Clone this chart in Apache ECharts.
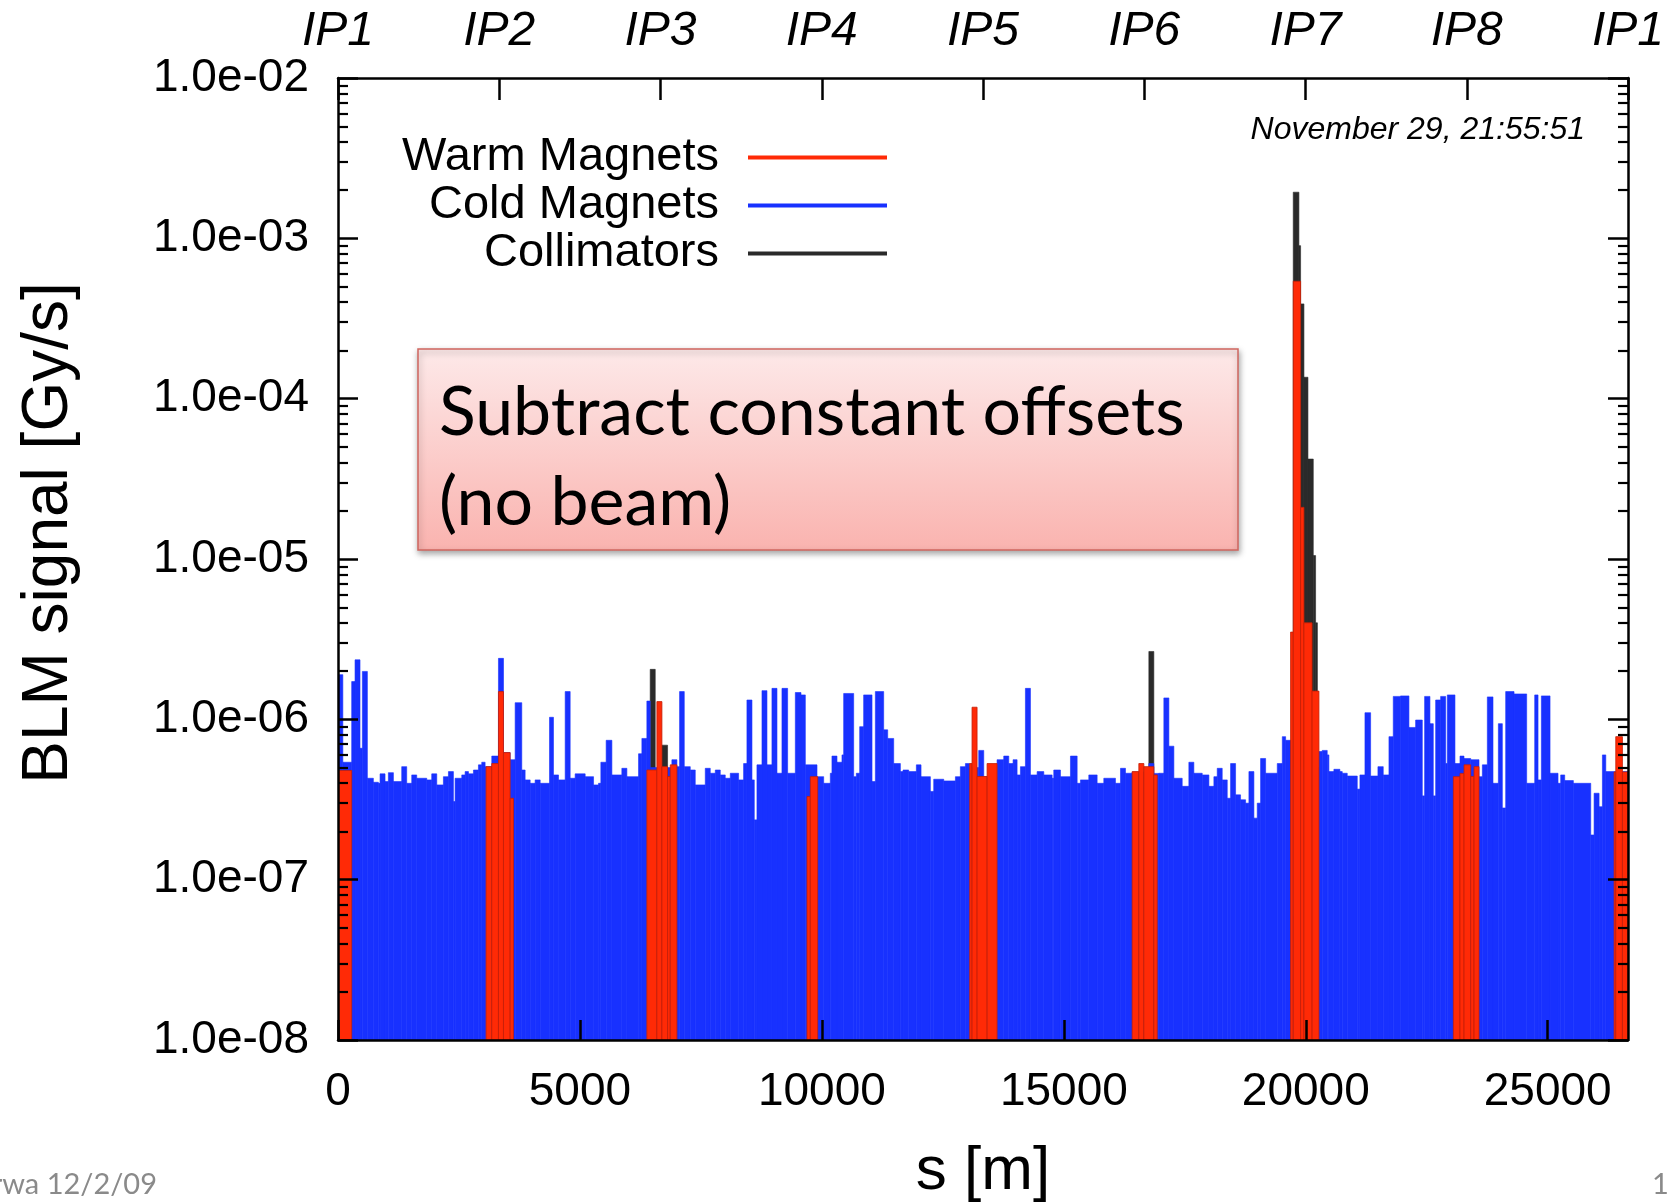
<!DOCTYPE html>
<html><head><meta charset="utf-8">
<script src="https://cdn.jsdelivr.net/npm/echarts@6/dist/echarts.min.js"></script>
<style>html,body{margin:0;padding:0;background:#fff;}#chart{width:1671px;height:1203px;}</style>
</head><body><div id="chart"></div>
<script>
// ---- data ----
const ringLength = 26659;
const ipNames = ['IP1','IP2','IP3','IP4','IP5','IP6','IP7','IP8','IP1'];
const xTickValues = [0, 5000, 10000, 15000, 20000, 25000];
const yTickLabels = ['1.0e-08','1.0e-07','1.0e-06','1.0e-05','1.0e-04','1.0e-03','1.0e-02'];
const yMin = 1e-8, yMax = 1e-2;

// Cold magnets: [start s (m), signal (Gy/s)], each bin lasts until the next start
const coldBins = [
[0,1.9e-6],[100,5.4e-7],[283,1.72e-6],[352,2.35e-6],[455,6.6e-7],[504,1.99e-6],[607,4.29e-7],[731,4.05e-7],[834,3.99e-7],[869,4.57e-7],[972,4.09e-7],[1041,4.65e-7],[1145,4.09e-7],[1317,5.07e-7],[1420,3.99e-7],[1524,4.5e-7],[1627,4.29e-7],[1834,4.19e-7],[1937,4.57e-7],[2041,3.9e-7],[2178,4.39e-7],[2282,4.72e-7],[2385,3.07e-7],[2420,4.29e-7],[2558,4.5e-7],[2627,4.72e-7],[2696,4.57e-7],[2799,4.83e-7],[2902,5.2e-7],[2971,5.4e-7],[3040,5.07e-7],[3178,5.9e-7],[3316,2.4e-6],[3420,6.2e-7],[3557,5.6e-7],[3661,1.27e-6],[3798,4.83e-7],[3867,4.19e-7],[3971,3.99e-7],[4074,4.19e-7],[4178,3.99e-7],[4371,1.03e-6],[4453,4.5e-7],[4557,4.19e-7],[4695,1.49e-6],[4798,4.29e-7],[4901,4.57e-7],[5108,4.39e-7],[5281,3.9e-7],[5384,3.99e-7],[5432,5.4e-7],[5542,7.4e-7],[5660,4.5e-7],[5866,4.95e-7],[5970,4.39e-7],[6211,6.1e-7],[6280,7.6e-7],[6383,1.3e-6],[6452,5.0e-7],[6900,5.6e-7],[7004,5.07e-7],[7059,1.49e-6],[7156,5.07e-7],[7280,4.83e-7],[7383,3.9e-7],[7590,4.95e-7],[7693,4.61e-7],[7797,4.83e-7],[7900,4.5e-7],[8003,4.29e-7],[8107,4.61e-7],[8279,4.19e-7],[8382,5.3e-7],[8451,1.32e-6],[8555,4.19e-7],[8603,2.36e-7],[8658,5.2e-7],[8762,1.51e-6],[8865,5.2e-7],[8968,1.56e-6],[9072,4.61e-7],[9175,1.56e-6],[9292,4.61e-7],[9451,1.47e-6],[9568,1.42e-6],[9658,5.2e-7],[9899,4.39e-7],[10037,3.99e-7],
[10174,4.61e-7],[10208,5.9e-7],[10312,5.4e-7],[10415,6.0e-7],[10450,1.45e-6],[10657,4.39e-7],[10712,4.61e-7],[10781,9.0e-7],[10863,1.42e-6],[11036,4.09e-7],[11105,1.49e-6],[11277,8.6e-7],[11360,7.6e-7],[11484,5.3e-7],[11622,4.72e-7],[11677,4.83e-7],[11794,4.72e-7],[11952,5.2e-7],[12049,4.39e-7],[12242,3.55e-7],[12311,4.23e-7],[12518,4.13e-7],[12759,4.39e-7],[12862,5.07e-7],[12966,5.3e-7],[13055,5.0e-7],[13241,6.4e-7],[13345,4.39e-7],[13620,5.6e-7],[13758,5.9e-7],[13862,5.3e-7],[13951,5.6e-7],[14034,4.5e-7],[14103,5.07e-7],[14206,1.56e-6],[14310,4.5e-7],[14448,4.72e-7],[14586,4.5e-7],[14758,4.29e-7],[14792,4.83e-7],[14930,4.39e-7],[15137,5.9e-7],[15275,3.99e-7],[15344,4.19e-7],[15516,4.5e-7],[15688,3.99e-7],[15826,4.29e-7],[16067,3.99e-7],[16171,4.95e-7],[16274,4.61e-7],[16412,4.7e-7],[16757,5.3e-7],[16860,4.6e-7],[16964,4.61e-7],[17067,1.36e-6],[17171,6.8e-7],[17274,4.29e-7],[17446,3.82e-7],[17584,5.4e-7],[17687,4.61e-7],[17860,4.5e-7],[17998,3.82e-7],[18101,4.39e-7],[18170,4.95e-7],[18273,4.19e-7],[18377,3.22e-7],[18446,5.3e-7],[18549,3.38e-7],[18652,3.15e-7],[18756,3.0e-7],[18825,4.72e-7],[18928,2.42e-7],[18997,3.0e-7],[19066,5.7e-7],[19170,4.61e-7],[19411,5.3e-7],[19515,7.8e-7],[19584,7.4e-7],[19720,5.0e-7],
[20271,6.3e-7],[20340,6.4e-7],[20443,6.0e-7],[20478,4.72e-7],[20581,4.88e-7],[20705,4.72e-7],[20754,4.61e-7],[20857,4.43e-7],[21064,3.67e-7],[21119,4.5e-7],[21223,1.1e-6],[21340,4.43e-7],[21491,5.07e-7],[21601,4.5e-7],[21719,7.8e-7],[21808,1.39e-6],[21960,1.4e-6],[22132,8.9e-7],[22270,9.9e-7],[22408,3.33e-7],[22456,1.39e-6],[22566,9.4e-7],[22635,3.33e-7],[22684,1.32e-6],[22787,1.39e-6],[22891,5.3e-7],[22925,1.42e-6],[23083,5.3e-7],[23187,5.9e-7],[23270,5.7e-7],[23408,5.6e-7],[23580,4.39e-7],[23649,5.2e-7],[23752,1.38e-6],[23869,3.99e-7],[23980,9.4e-7],[24062,2.8e-7],[24131,1.49e-6],[24304,1.44e-6],[24565,3.99e-7],[24731,1.42e-6],[24800,4.19e-7],[24869,1.4e-6],[25048,4.61e-7],[25213,3.99e-7],[25268,4.5e-7],[25351,4.15e-7],[25530,3.99e-7],[25889,1.9e-7],[25958,3.46e-7],[26061,2.85e-7],[26130,6.0e-7],[26200,4.72e-7]
];

// Warm magnets: [s start, s end, signal]
const warmBars = [
[0,283,4.8e-7],
[3060,3178,5.07e-7],[3178,3316,5.3e-7],[3316,3420,1.49e-6],[3420,3557,6.2e-7],[3557,3626,3.22e-7],
[6383,6590,4.83e-7],[6590,6694,1.29e-6],[6694,6811,5.07e-7],[6811,6866,4.4e-7],[6866,7004,5.2e-7],
[9692,9761,3.3e-7],[9761,9913,4.39e-7],
[13055,13103,5.3e-7],[13103,13207,1.19e-6],[13207,13414,4.4e-7],[13414,13620,5.3e-7],
[16412,16550,4.72e-7],[16550,16654,5.3e-7],[16654,16860,5.07e-7],[16860,16930,4.5e-7],
[19686,19741,3.5e-6],[19741,19893,5.4e-4],[19893,19962,2.1e-5],[19962,20130,4.0e-6],[20130,20272,1.5e-6],
[23050,23187,4.39e-7],[23187,23270,4.6e-7],[23270,23408,5.2e-7],[23408,23477,4.4e-7],[23477,23580,5.07e-7],
[26372,26406,4.7e-7],[26406,26544,7.8e-7],[26544,26659,4.7e-7]
];

// Collimators: [s start, s end, signal]
const collimatorBars = [
[6452,6556,2.05e-6],[6694,6811,6.9e-7],
[16757,16860,2.65e-6],
[19741,19858,1.94e-3],[19858,19893,9e-4],[19893,19962,3.9e-4],[19962,20045,1.36e-4],[20045,20155,4.2e-5],[20155,20203,1.05e-5],[20203,20240,4e-6],
[23200,23270,5.4e-7]
];

// ---- build ----
const coldData = coldBins.map((b, i) => [b[0], i + 1 < coldBins.length ? coldBins[i + 1][0] : ringLength, b[1]]);
const ipPositions = ipNames.map((_, i) => ringLength * i / 8);

const FONT = 'Liberation Sans';
const colors = { warm: '#ff2a06', cold: '#1831ff', coll: '#2a2a2a' };

function barRenderer(fill, stroke, lw) {
  return function (params, api) {
    const top = api.coord([api.value(0), api.value(2)]);
    const base = api.coord([api.value(1), yMin]);
    return {
      type: 'rect',
      shape: { x: top[0], y: top[1], width: base[0] - top[0], height: base[1] - top[1] },
      style: { fill: fill, stroke: stroke, lineWidth: lw }
    };
  };
}

const chart = echarts.init(document.getElementById('chart'), null, { renderer: 'canvas' });

const axisLineStyle = { color: '#000', width: 2.5 };

const option = {
  animation: false,
  backgroundColor: '#fff',
  textStyle: { fontFamily: FONT },
  grid: { left: 338, top: 78, right: 43, bottom: 163, containLabel: false, outerBoundsMode: 'none' },
  legend: {
    data: ['Warm Magnets', 'Cold Magnets', 'Collimators'],
    orient: 'vertical', left: 384, top: 129, align: 'right',
    icon: 'rect', itemWidth: 139, itemHeight: 4, itemGap: 1,
    selectedMode: false,
    formatter: '{n|{name}}',
    textStyle: {
      rich: { n: { fontFamily: FONT, fontSize: 47, lineHeight: 47, width: 330, align: 'right', padding: [0, 24, 0, 0], color: '#000' } }
    }
  },
  xAxis: [
    {
      type: 'value', position: 'bottom', min: 0, max: ringLength, z: 10,
      axisLine: { show: true, onZero: false, lineStyle: axisLineStyle },
      axisTick: { show: true, inside: true, length: 20, customValues: xTickValues, lineStyle: { color: '#000', width: 2.5 } },
      axisLabel: { customValues: xTickValues, margin: 29, fontSize: 46, fontFamily: FONT, color: '#000', formatter: v => String(v) },
      splitLine: { show: false },
      name: 's [m]', nameLocation: 'middle', nameGap: 101, nameMoveOverlap: false,
      nameTextStyle: { fontSize: 62, fontFamily: FONT, color: '#000' }
    },
    {
      type: 'value', position: 'top', min: 0, max: ringLength, z: 10,
      axisLine: { show: true, onZero: false, lineStyle: axisLineStyle },
      axisTick: { show: true, inside: true, length: 22, customValues: ipPositions, lineStyle: { color: '#000', width: 2.5 } },
      axisLabel: {
        customValues: ipPositions, margin: 22, fontSize: 48, fontStyle: 'italic', fontFamily: FONT, color: '#000',
        formatter: v => ipNames[Math.round(v / (ringLength / 8))]
      },
      splitLine: { show: false }
    }
  ],
  yAxis: [
    {
      type: 'log', logBase: 10, position: 'left', min: yMin, max: yMax, splitNumber: 6, z: 10,
      axisLine: { show: true, onZero: false, lineStyle: axisLineStyle },
      axisTick: { show: true, inside: true, length: 20, lineStyle: { color: '#000', width: 2.5 } },
      minorTick: { show: true, splitNumber: 9, length: 10, lineStyle: { color: '#000', width: 2.2 } },
      axisLabel: {
        margin: 29, fontSize: 46, fontFamily: FONT, color: '#000',
        formatter: v => yTickLabels[Math.round(Math.log10(v)) + 8]
      },
      splitLine: { show: false }, minorSplitLine: { show: false },
      name: 'BLM signal [Gy/s]', nameLocation: 'middle', nameGap: 257, nameRotate: 90, nameMoveOverlap: false,
      nameTextStyle: { fontSize: 64, fontFamily: FONT, color: '#000', padding: [0, 0, 0, 52] }
    },
    {
      type: 'log', logBase: 10, position: 'right', min: yMin, max: yMax, splitNumber: 6, z: 10,
      axisLine: { show: true, onZero: false, lineStyle: axisLineStyle },
      axisTick: { show: true, inside: true, length: 20, lineStyle: { color: '#000', width: 2.5 } },
      minorTick: { show: true, splitNumber: 9, length: 10, lineStyle: { color: '#000', width: 2.2 } },
      axisLabel: { show: false },
      splitLine: { show: false }, minorSplitLine: { show: false }
    }
  ],
  series: [
    {
      name: 'Collimators', type: 'custom', xAxisIndex: 0, yAxisIndex: 0, clip: true,
      itemStyle: { color: colors.coll },
      encode: { x: [0, 1], y: 2 },
      renderItem: barRenderer(colors.coll, colors.coll, 0.6),
      data: collimatorBars
    },
    {
      name: 'Cold Magnets', type: 'custom', xAxisIndex: 0, yAxisIndex: 0, clip: true,
      itemStyle: { color: colors.cold },
      encode: { x: [0, 1], y: 2 },
      renderItem: barRenderer(colors.cold, colors.cold, 0.6),
      data: coldData
    },
    {
      name: 'Warm Magnets', type: 'custom', xAxisIndex: 0, yAxisIndex: 0, clip: true,
      itemStyle: { color: colors.warm },
      encode: { x: [0, 1], y: 2 },
      renderItem: barRenderer(colors.warm, '#c41f08', 0.8),
      data: warmBars
    }
  ],
  graphic: [
    {
      type: 'text', x: 1585, y: 130, z: 100,
      style: { text: 'November 29, 21:55:51', fontSize: 32, fontStyle: 'italic', fontFamily: FONT, fill: '#000', align: 'right', verticalAlign: 'middle' }
    },
    {
      type: 'rect', z: 100,
      shape: { x: 418, y: 349, width: 820, height: 201 },
      style: {
        fill: new echarts.graphic.LinearGradient(0, 0, 0, 1, [{ offset: 0, color: '#fde9e9' }, { offset: 1, color: '#fab3af' }]),
        stroke: '#d0655f', lineWidth: 1.5,
        shadowBlur: 6, shadowOffsetX: 1, shadowOffsetY: 3, shadowColor: 'rgba(0,0,0,0.35)'
      }
    },
    {
      type: 'text', x: 439, y: 368, z: 101,
      style: { text: 'Subtract constant offsets\n(no beam)', fontSize: 68, fontFamily: 'Lato', lineHeight: 90, fill: '#000', align: 'left', verticalAlign: 'top' }
    },
    {
      type: 'text', x: 157, y: 1199, z: 100,
      style: { text: 'rwa 12/2/09', fontSize: 29, fontFamily: 'Lato', fill: '#8a8a8a', align: 'right', verticalAlign: 'bottom' }
    },
    {
      type: 'text', x: 1652, y: 1199, z: 100,
      style: { text: '11', fontSize: 29, fontFamily: 'Lato', fill: '#8a8a8a', align: 'left', verticalAlign: 'bottom' }
    }
  ]
};
chart.setOption(option);
</script></body></html>
